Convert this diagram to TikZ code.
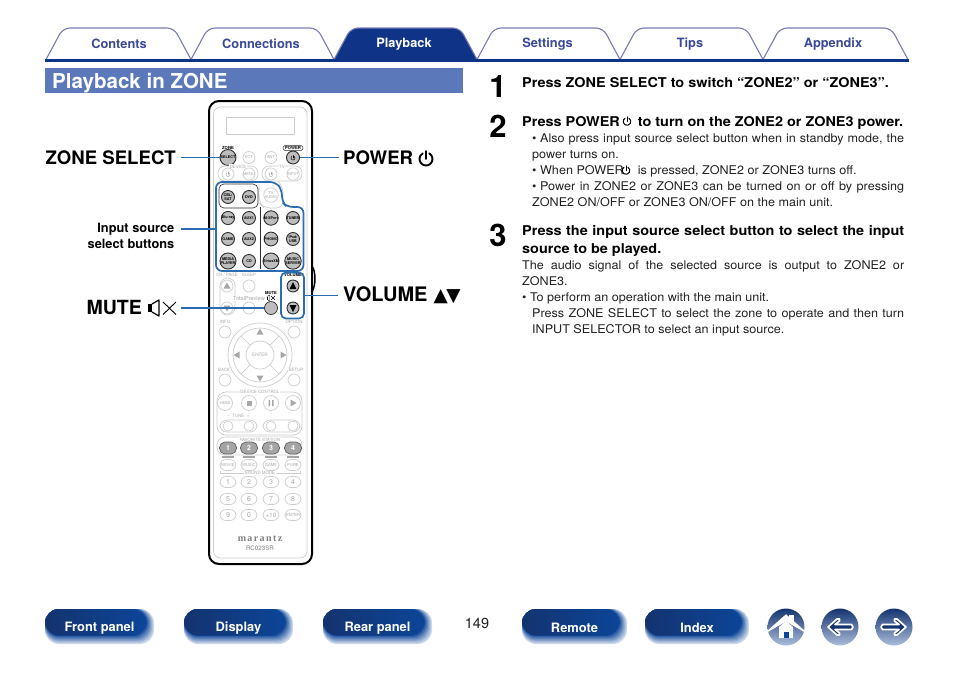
\documentclass[tikz,border=0pt]{standalone}
\usepackage{fontspec}
\setmainfont{TeX Gyre Heros}
\setsansfont{TeX Gyre Heros}
\newfontfamily\dejavu{DejaVu Sans}
\newfontfamily\brandf[LetterSpace=14]{Liberation Serif}
\newfontfamily\headf[FakeStretch=1.07]{TeX Gyre Heros}
\newfontfamily\bodyf[FakeStretch=1.05]{TeX Gyre Heros}
\usetikzlibrary{calc}
\definecolor{navytab}{HTML}{0F3387}
\definecolor{tabline}{HTML}{7A7AB8}
\definecolor{tabtext}{HTML}{3B4A98}
\definecolor{barblue}{HTML}{5B78BB}
\definecolor{callout}{HTML}{2B6CB2}
\definecolor{navcore}{HTML}{0C4598}
\definecolor{navdark}{HTML}{14336F}
\definecolor{lgray}{HTML}{CDCDCD}
\definecolor{ltext}{HTML}{A8A8A8}
\definecolor{btnfill}{HTML}{BDBDBD}
\definecolor{favfill}{HTML}{A4A4A4}
\definecolor{btnline}{HTML}{2E2E2E}
\definecolor{inktext}{HTML}{222222}
\tikzset{
  x=1pt,y=-1pt,
  tabshape/.style={draw=tabline,line width=1.1pt,fill=white,rounded corners=7pt},
  tabactive/.style={draw=tabline,line width=1.1pt,fill=navytab,rounded corners=7pt},
  tablabel/.style={font=\fontsize{12.8}{14}\selectfont\bfseries,text=tabtext,inner sep=0pt},
  calloutline/.style={draw=callout,line width=1.8pt},
  bigkey/.style={font=\fontsize{18.6}{20}\selectfont\bfseries,text=black,inner sep=0pt},
  stepnum/.style={font=\fontsize{31}{31}\selectfont\bfseries,text=black,inner sep=0pt},
  stephead/.style={font=\headf\fontsize{13.5}{18}\selectfont\bfseries,text=black,inner sep=0pt,anchor=north west,align=justify},
  stepbody/.style={font=\bodyf\fontsize{12}{16}\selectfont,text=inktext,inner sep=0pt,anchor=north west,align=justify},
  activebtn/.style={circle,draw=btnline,line width=.9pt,fill=btnfill,minimum size=13pt,inner sep=0pt,font=\fontsize{3.7}{3.9}\selectfont\bfseries,align=center,text=black},
  palebtn/.style={circle,draw=lgray,line width=.7pt,fill=white,minimum size=14pt,inner sep=0pt,font=\fontsize{4}{4.2}\selectfont,align=center,text=ltext},
  palekey/.style={rounded corners=6pt,draw=lgray,line width=.7pt,fill=white,minimum width=16pt,minimum height=11pt,inner sep=0pt,font=\fontsize{4.1}{4.4}\selectfont,text=ltext},
  digitkey/.style={palekey,font=\fontsize{7}{7}\selectfont},
  favkey/.style={rounded corners=5.5pt,draw=favfill!60!black,line width=.7pt,fill=favfill,minimum width=17pt,minimum height=12pt,inner sep=0pt,font=\fontsize{7}{7}\selectfont\bfseries,text=white},
  tinylabel/.style={font=\fontsize{4.4}{4.6}\selectfont,text=ltext,inner sep=.6pt,fill=white},
  tinydark/.style={font=\fontsize{4.2}{4.4}\selectfont\bfseries,text=black,inner sep=0pt},
  groupbox/.style={draw=lgray,line width=.7pt,rounded corners=7pt},
  navlabel/.style={font=\fontsize{12.9}{14}\selectfont\bfseries,text=white,inner sep=0pt},
}
\newcommand{\pwric}[4]{\draw[line width=#4,line cap=round] ([shift={(#1,#2)}]300:#3) arc[start angle=300,end angle=600,radius=#3];
  \draw[line width=#4,line cap=round] (#1,#2-#3*1.2) -- (#1,#2);}
\newcommand{\tabpath}[3]{\draw[#1] (#2,59.5) -- (#2+17,28) -- (#3-17,28) -- (#3,59.5);}
\newcommand{\navbtn}[4]{%
  \foreach \i in {0,...,7}{%
    \pgfmathsetmacro\pp{20+\i*11}%
    \fill[navcore!\pp!white,rounded corners=14pt] (#2,609) rectangle (#3-\i*1.0,644-\i*1.15);}
  \shade[left color=navdark,right color=navcore,rounded corners=14pt] (#2,609) rectangle (#3-8,635.5);
  \node[navlabel] (#1) at ($(#2,628)!.5!(#3,628)$) {#4};}
\newcommand{\navcirc}[3]{\node[circle,minimum size=37pt,inner sep=0pt,top color=navdark,middle color=navcore,bottom color=navcore!35!white,shading angle=0] (#1) at (#2,#3) {};}
\newcommand{\arrowshape}{(-12.5,0) -- (-3.5,-8) -- (-1,-8) -- (-1,-6) -- (-5.5,-2.5) -- (11,-2.5) -- (12.5,0) -- (11,2.5) -- (-5.5,2.5) -- (-1,6) -- (-1,8) -- (-3.5,8) -- cycle}
\newcommand{\markU}[2]{\fill[ltext] (#1,#2-3.5) -- (#1+3.5,#2+2.5) -- (#1-3.5,#2+2.5) -- cycle;}
\newcommand{\markD}[2]{\fill[ltext] (#1,#2+3.5) -- (#1+3.5,#2-2.5) -- (#1-3.5,#2-2.5) -- cycle;}
\newcommand{\markL}[2]{\fill[ltext] (#1-3.5,#2) -- (#1+2.5,#2-3.5) -- (#1+2.5,#2+3.5) -- cycle;}
\newcommand{\markR}[2]{\fill[ltext] (#1+3.5,#2) -- (#1-2.5,#2-3.5) -- (#1-2.5,#2+3.5) -- cycle;}
\begin{document}
\begin{tikzpicture}
\useasboundingbox (0,0) rectangle (954,673);
% ---------- tabs
\tabpath{tabshape}{46}{191}
\tabpath{tabshape}{191}{334}
\tabpath{tabshape}{477}{620}
\tabpath{tabshape}{620}{763}
\tabpath{tabshape}{763}{908}
\tabpath{tabactive}{334}{477}
\fill[navytab] (45,59) rectangle (909,62);
\node[tablabel] (tabA) at (119,44) {Contents};
\node[tablabel] (tabB) at (261,44) {Connections};
\node[tablabel,text=white] (tabC) at (404,44) {Playback};
\node[tablabel] (tabD) at (547.5,44.5) {Settings};
\node[tablabel] (tabE) at (690,44.5) {Tips};
\node[tablabel] (tabF) at (833,44.5) {Appendix};
% ---------- title bar
\fill[barblue] (45,68) rectangle (463,93);
\node[font=\fontsize{20.5}{22}\selectfont\bfseries,text=white,inner sep=0pt,anchor=west] (title) at (52,83) {Playback in ZONE};
% ---------- remote body
\draw[line width=1.5pt] (312,266) .. controls (316,272) and (316,285) .. (312,292);
\draw[black,line width=2pt,fill=white,rounded corners=10pt] (209,101) rectangle (312,564);
\draw[lgray,line width=.7pt,rounded corners=7pt] (213.5,107) rectangle (307,558);
\draw[lgray,line width=.7pt] (226.5,117) rectangle (294,134);
% top row
\node[tinydark] (zonetxt) at (228,148) {ZONE};
\node[tinydark,draw=btnline,line width=.5pt,rounded corners=1.5pt,inner xsep=2pt,inner ysep=.8pt] (powertxt) at (293,148) {POWER};
\node[activebtn,minimum size=12.5pt,minimum width=16pt] (selbtn) at (228,157.5) {SELECT};
\node[palebtn,minimum size=12pt] (ectbtn) at (249,157.5) {ECT};
\node[palebtn,minimum size=12pt] (antbtn) at (271,157.5) {ANT};
\node[activebtn] (pwrbtn) at (293,157.5) {};
\pwric{293}{158}{2}{.5pt}
% device & tv groups
\draw[groupbox] (218,166) rectangle (258,181);
\draw[groupbox] (262,166) rectangle (302,181);
\node[tinylabel] (devtxt) at (238,166.5) {DEVICE};
\node[tinylabel] (tvtxt) at (282,166.5) {TV};
\node[palebtn,minimum size=12pt] (devpwr) at (228,174) {};
\node[palebtn,minimum size=12pt] (devmenu) at (249,174) {MENU};
\node[palebtn,minimum size=12pt] (tvpwr) at (271,174) {};
\node[palebtn,minimum size=12pt] (tvinput) at (293,174) {INPUT};
\begin{scope}[ltext]\pwric{228}{174.5}{2}{.4pt}\pwric{271}{174.5}{2}{.4pt}\end{scope}
% tv audio
\draw[groupbox] (259,184) -- (259,203) -- (264,208) -- (283,208) -- (283,186) -- (279,182);
\node[palebtn] (tvaudio) at (271,195) {TV\\AUDIO};
% input source group
\draw[btnline,line width=.6pt,rounded corners=5pt] (219,184) rectangle (258,208);
\draw[btnline,line width=.6pt] (260.5,207) -- (260.5,268.5);
\node[activebtn] (srcA) at (228,197) {CBL/\\SAT};
\node[activebtn] (srcB) at (249,197) {DVD};
\node[activebtn] (srcC) at (228,218) {Blu-ray};
\node[activebtn] (srcD) at (249,218) {AUX1};
\node[activebtn] (srcE) at (271,218) {M-XPort};
\node[activebtn] (srcF) at (293,218) {TUNER};
\node[activebtn] (srcG) at (228,239) {GAME};
\node[activebtn] (srcH) at (249,239) {AUX2};
\node[activebtn] (srcI) at (271,239) {PHONO};
\node[activebtn] (srcJ) at (293,239) {iPod/\\USB};
\node[activebtn] (srcK) at (228,261) {MEDIA\\PLAYER};
\node[activebtn] (srcL) at (249,261) {CD};
\node[activebtn] (srcM) at (271,261) {SiriusXM};
\node[activebtn] (srcN) at (293,261) {MUSIC\\SERVER};
\draw[callout,line width=1.7pt,rounded corners=6pt] (216,229) -- (216,182) -- (276,182) -- (282,190) -- (282,202) -- (287,207) -- (303.5,207) -- (303.5,271) -- (216,271) -- (216,229);
\coordinate (srcedge) at (216,229);
% ch/page, sleep, volume, mute
\draw[groupbox,rounded corners=7.5pt] (220,278) rectangle (235,315);
\node[tinylabel] (chtxt) at (227,274.5) {CH / PAGE};
\draw[lgray,line width=.7pt] (227,286) circle[radius=6];
\draw[lgray,line width=.7pt] (227,308) circle[radius=6];
\markU{227}{286}\markD{227}{308}
\node[tinylabel] (sleeptxt) at (249,275) {SLEEP};
\node[palebtn,minimum size=12pt] (sleepbtn) at (249,286) {};
\node[tinylabel,font=\fontsize{5.6}{5.8}\selectfont] (totaltxt) at (249,298) {TotalPreview};
\node[palebtn,minimum size=12pt] (totalbtn) at (249,308) {};
\node[tinydark] (mutetxt) at (271,292.5) {MUTE};
\node[activebtn,draw=btnline,line width=.7pt,minimum size=13pt] (mutebtn) at (271,308) {};
\begin{scope}[line width=.4pt]
\fill (266.5,296.5) rectangle (267.5,299.5);
\draw (267.5,296.5) -- (269.5,295) -- (269.5,301) -- (267.5,299.5);
\draw (271,296) -- (275,300) (275,296) -- (271,300);
\end{scope}
\node[tinydark] (voltxt) at (293,274.5) {VOLUME};
\node[activebtn,minimum size=12pt] (volup) at (293,286) {};
\node[activebtn,minimum size=12pt] (voldn) at (293,308) {};
\fill (293,282) -- (296.5,289) -- (289.5,289) -- cycle;
\fill (293,312) -- (296.5,305) -- (289.5,305) -- cycle;
\node[draw=callout,line width=1.7pt,rounded corners=5pt,minimum width=23pt,minimum height=46pt,inner sep=0pt] (volbox) at (292.5,295.5) {};
% info option
\node[tinylabel] (infotxt) at (225,322) {INFO};
\node[palebtn,minimum size=12pt] (infobtn) at (225,332) {};
\node[tinylabel] (opttxt) at (294,322) {OPTION};
\node[palebtn,minimum size=12pt] (optbtn) at (294,332) {};
% d-pad
\draw[lgray,line width=.7pt] (260,355) circle[radius=32];
\draw[lgray,line width=.7pt] (260,355) circle[radius=27];
\foreach \a in {45,135,225,315}{\draw[lgray,line width=.7pt] ([shift={(260,355)}]\a:14) -- ([shift={(260,355)}]\a:27);}
\node[palebtn,minimum size=28pt,font=\fontsize{4.6}{4.6}\selectfont] (enterbtn) at (260,355) {ENTER};
\markU{260}{332}\markD{260}{378}\markL{237}{355}\markR{283}{355}
\node[tinylabel] (backtxt) at (224,370) {BACK};
\node[palebtn,minimum size=12pt] (backbtn) at (225,380) {};
\node[tinylabel] (setuptxt) at (296,370) {SETUP};
\node[palebtn,minimum size=12pt] (setupbtn) at (294,380) {};
% device control
\draw[groupbox,rounded corners=9pt] (217,392) rectangle (302,435);
\node[tinylabel] (dctxt) at (260,392) {DEVICE CONTROL};
\node[palebtn,minimum size=15pt] (hdmibtn) at (225,403) {HDMI};
\node[palebtn,minimum size=15pt] (stopbtn) at (249,403) {};
\node[palebtn,minimum size=15pt] (pausebtn) at (271,403) {};
\node[palebtn,minimum size=15pt] (playbtn) at (293,403) {};
\fill[ltext] (246.5,400.5) rectangle (251.5,405.5);
\fill[ltext] (268.5,400) rectangle (270,406) (272,400) rectangle (273.5,406);
\markR{293}{403}
\node[tinylabel] (tunetxt) at (238.5,416) {--\ \ TUNE\ \ +};
\draw[groupbox] (220,420) rectangle (257,432);
\draw[groupbox] (263,420) rectangle (300,432);
\node[palebtn,minimum size=10pt] (tunedn) at (228,426) {};
\node[palebtn,minimum size=10pt] (tuneup) at (249,426) {};
\node[palebtn,minimum size=10pt] (skipdn) at (271,426) {};
\node[palebtn,minimum size=10pt] (skipup) at (293,426) {};
% favourite station
\draw[groupbox,rounded corners=8pt] (217,437) rectangle (302,455);
\node[tinylabel] (favtxt) at (260,439.5) {FAVORITE STATION};
\node[favkey] (favA) at (228,448) {1};
\node[favkey] (favB) at (249,448) {2};
\node[favkey] (favC) at (271,448) {3};
\node[favkey] (favD) at (293,448) {4};
\foreach \x in {228,249,271,293}{\fill[favfill] (\x-6,456) rectangle (\x+6,458);}
\node[palekey] (modeA) at (228,465) {MOVIE};
\node[palekey] (modeB) at (249,465) {MUSIC};
\node[palekey] (modeC) at (271,465) {GAME};
\node[palekey] (modeD) at (293,465) {PURE};
\draw[lgray,line width=.6pt] (220,471) -- (220,473) -- (300,473) -- (300,471);
\node[tinylabel] (modetxt) at (260,473) {SOUND MODE};
\node[digitkey] (numA) at (228,482) {1};
\node[digitkey] (numB) at (249,482) {2};
\node[digitkey] (numC) at (271,482) {3};
\node[digitkey] (numD) at (293,482) {4};
\node[digitkey] (numE) at (228,499) {5};
\node[digitkey] (numF) at (249,499) {6};
\node[digitkey] (numG) at (271,499) {7};
\node[digitkey] (numH) at (293,499) {8};
\node[digitkey] (numI) at (228,515) {9};
\node[digitkey] (numJ) at (249,515) {0};
\node[digitkey,font=\fontsize{6}{6}\selectfont] (numK) at (271,515) {+10};
\node[palekey] (numL) at (293,515) {ENTER};
\node[font=\fontsize{10}{10}\selectfont\brandf\bfseries,text=gray,inner sep=0pt] (brand) at (260,539) {marantz};
\node[font=\fontsize{6.2}{7}\selectfont,text=gray,inner sep=0pt] (model) at (260,548) {RC023SR};
% ---------- callout labels and connectors
\node[bigkey,anchor=east] (lblzone) at (176,157.5) {ZONE SELECT};
\node[bigkey,anchor=west] (lblpower) at (343,157.5) {POWER};
\pwric{426}{159}{6.5}{1.9pt}
\node[font=\fontsize{12.8}{16}\selectfont\bfseries,text=black,inner sep=0pt,anchor=east,align=right] (lblinput) at (174.5,236) {Input source\\select buttons};
\node[bigkey,anchor=east,font=\fontsize{19.5}{20}\selectfont\bfseries] (lblmute) at (142,307.5) {MUTE};
\fill (148,304) rectangle (152,312);
\draw[line width=1.2pt,line join=round] (152,304) -- (159,300) -- (159,316) -- (152,312);
\draw[line width=.9pt] (163,302) -- (176,314.5) (176,302) -- (163,314.5);
\node[bigkey,anchor=west,font=\fontsize{20}{20}\selectfont\bfseries] (lblvol) at (343,295) {VOLUME\hspace{6pt}{\dejavu\fontsize{18.5}{20}\selectfont ▲\hspace{-1.5pt}▼}};
\draw[calloutline] (181,157.5) -- (selbtn.west |- 0,157.5);
\draw[calloutline] (pwrbtn.east |- 0,157.5) -- (339,157.5);
\draw[calloutline] (181,229) -- (srcedge);
\draw[calloutline] (181,308) -- (mutebtn.west);
\draw[calloutline] (volbox.east |- 0,295.5) -- (338,295.5);
% ---------- steps
\node[stepnum] (num1) at (498,87) {1};
\node[stepnum] (num2) at (498,126) {2};
\node[stepnum] (num3) at (498,235) {3};
\node[stephead,anchor=base west] (step1) at (522,87) {Press ZONE SELECT to switch “ZONE2” or “ZONE3”.};
\node[stephead,anchor=base west] (step2) at (522,126) {Press POWER\hspace{18pt}to turn on the ZONE2 or ZONE3 power.};
\pwric{627}{121.5}{3.8}{1pt}
\node[stepbody,text width=372pt] (body2) at (532,133.5) {\mbox{• Also} press input source select button when in standby mode, the\linebreak power turns on.\\
• When POWER\hspace{14pt}is pressed, ZONE2 or ZONE3 turns off.\\
\mbox{• Power} in ZONE2 or ZONE3 can be turned on or off by pressing\linebreak ZONE2 ON/OFF or ZONE3 ON/OFF on the main unit.};
\pwric{626}{170.5}{3.8}{1pt}
\node[stephead,text width=382pt] (step3) at (522,225.5) {Press the input source select button to select the input\linebreak source to be played.};
\node[stepbody,text width=382pt] (body3a) at (522,260.3) {The audio signal of the selected source is output to ZONE2 or\linebreak ZONE3.\\
• To perform an operation with the main unit.};
\node[stepbody,text width=372pt] (body3b) at (532,308.3) {Press ZONE SELECT to select the zone to operate and then turn\linebreak INPUT SELECTOR to select an input source.};
% ---------- page number
\node[font=\fontsize{14.5}{16}\selectfont,text=inktext,inner sep=0pt] (pagenum) at (477,623) {149};
% ---------- bottom nav
\navbtn{navA}{45}{154}{Front panel}
\navbtn{navB}{184}{293}{Display}
\navbtn{navC}{323}{432}{Rear panel}
\navbtn{navD}{522}{627}{Remote}
\navbtn{navE}{645}{749}{Index}
\navcirc{navhome}{786}{627}
\navcirc{navback}{840}{627}
\navcirc{navfwd}{894}{627}
\fill[white] (789,615) rectangle (794,622);
\draw[white,line width=2.6pt,fill=white] (773,627.5) -- (786,616) -- (799,627.5) -- (786,620) -- cycle;
\fill[white] (779,627) -- (786,621) -- (793,627) -- (793,638) -- (779,638) -- cycle;
\fill[navcore] (783.5,632) rectangle (788.5,638);
\draw[white,line width=1.7pt,fill=navdark,line join=round,shift={(840.5,627)}] \arrowshape;
\draw[white,line width=1.7pt,fill=navdark,line join=round,shift={(893.5,627)},xscale=-1] \arrowshape;
\end{tikzpicture}
\end{document}
